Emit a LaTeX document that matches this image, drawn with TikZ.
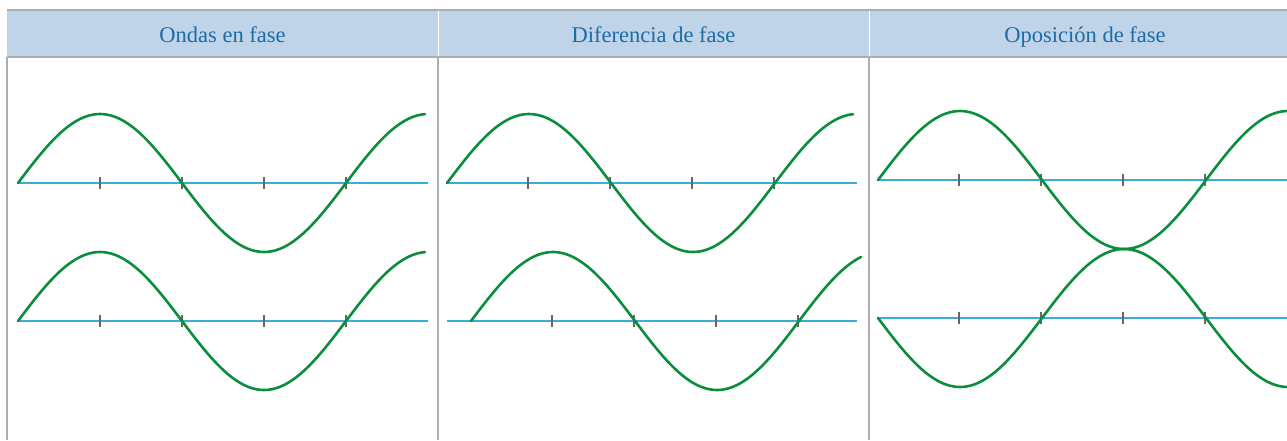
\documentclass[tikz,border=0pt]{standalone}
\usepackage{fontspec}
\setmainfont{Liberation Serif}
\definecolor{wavegreen}{HTML}{0A8E3E}
\definecolor{axisblue}{HTML}{3AADDA}
\definecolor{tickgray}{HTML}{666666}
\definecolor{bordergray}{HTML}{AEAEAE}
\definecolor{headfill}{HTML}{BFD4E8}
\definecolor{headtext}{HTML}{1D6CA6}
\tikzset{
  wave/.style={draw=wavegreen, line width=2.6pt, line cap=round, line join=round},
  axisline/.style={draw=axisblue, line width=1.4pt},
  tickmark/.style={draw=tickgray, line width=1.2pt},
  border/.style={draw=bordergray, line width=1.4pt},
  headlabel/.style={text=headtext, font=\fontsize{22.5}{26}\selectfont, inner sep=0pt, anchor=base},
}
% #1 start x, #2 axis y, #3 end x, #4 sign (+1 normal, -1 inverted)
\newcommand{\wavecurve}[4]{%
  \draw[wave] plot[domain=0:{#3-#1}, samples=120, smooth] ({#1+\x}, {#2 - (#4)*69*sin((\x/328)*360)});}
% #1 start x, #2 y, #3 end x, #4 first tick x
\newcommand{\axisticks}[4]{%
  \draw[axisline] (#1,#2) -- (#3,#2);
  \foreach \k in {0,1,2,3} {\draw[tickmark] ({#4+82*\k},{#2-6}) -- ({#4+82*\k},{#2+6});}}
\begin{document}
\begin{tikzpicture}[x=1pt,y=-1pt]
\useasboundingbox (0,0) rectangle (1287,440);
% header
\fill[headfill] (7,10) rectangle (1287,57);
\draw[border] (7,10) -- (1287,10);
\draw[border] (7,57) -- (1287,57);
\draw[white, line width=0.8pt] (438,10.7) -- (438,56.3);
\draw[white, line width=0.8pt] (869,10.7) -- (869,56.3);
\draw[border] (7,57) -- (7,440);
\draw[border] (438,57) -- (438,440);
\draw[border] (869,57) -- (869,440);
\node[headlabel] (h1) at (222.5,42) {Ondas en fase};
\node[headlabel] (h2) at (653.5,42) {Diferencia de fase};
\node[headlabel] (h3) at (1085,42) {Oposición de fase};
% panel 1
\axisticks{18}{183}{428}{100}
\axisticks{18}{321}{428}{100}
\wavecurve{18}{183}{425}{1}
\wavecurve{18}{321}{425}{1}
% panel 2
\axisticks{447}{183}{857}{528}
\axisticks{447}{321}{857}{552}
\wavecurve{447}{183}{853}{1}
\wavecurve{471}{321}{861}{1}
% panel 3
\axisticks{878}{180}{1287}{959}
\axisticks{878}{318}{1287}{959}
\wavecurve{878}{180}{1287}{1}
\wavecurve{878}{318}{1287}{-1}
\end{tikzpicture}
\end{document}
